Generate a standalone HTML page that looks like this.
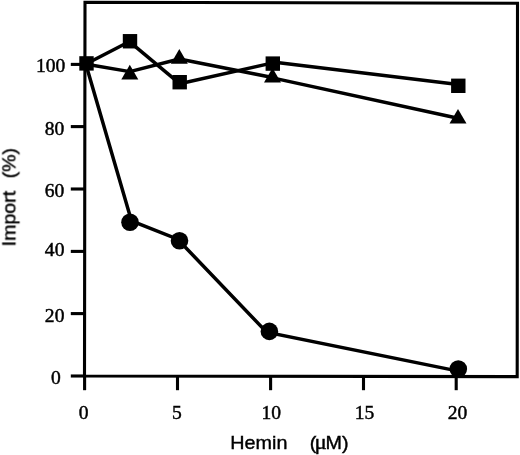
<!DOCTYPE html>
<html><head><meta charset="utf-8"><title>Hemin import</title>
<style>html,body{margin:0;padding:0;background:#fff}svg{display:block}</style></head>
<body>
<svg width="520" height="455" viewBox="0 0 520 455">
<rect x="0" y="0" width="520" height="455" fill="#fff"/>
<defs><filter id="soft" x="0" y="0" width="520" height="455" filterUnits="userSpaceOnUse"><feGaussianBlur stdDeviation="0.4"/></filter></defs>
<g filter="url(#soft)">
<g stroke="#000" fill="none" stroke-linecap="butt" stroke-linejoin="miter">
<polygon points="85.0,2.3 517.5,3.2 517.2,376.6 84.5,376.0" stroke-width="3.1"/>
<line x1="70.8" y1="64.4" x2="85" y2="64.4" stroke-width="3.1"/>
<line x1="70.8" y1="126.6" x2="85" y2="126.6" stroke-width="3.1"/>
<line x1="70.8" y1="189.0" x2="85" y2="189.0" stroke-width="3.1"/>
<line x1="70.8" y1="251.4" x2="85" y2="251.4" stroke-width="3.1"/>
<line x1="70.8" y1="313.6" x2="85" y2="313.6" stroke-width="3.1"/>
<line x1="70.8" y1="376.0" x2="85" y2="376.0" stroke-width="3.1"/>
<line x1="84.6" y1="376" x2="84.6" y2="390.2" stroke-width="3.1"/>
<line x1="177.5" y1="376" x2="177.5" y2="390.2" stroke-width="3.1"/>
<line x1="270.6" y1="376" x2="270.6" y2="390.2" stroke-width="3.1"/>
<line x1="363.5" y1="376" x2="363.5" y2="390.2" stroke-width="3.1"/>
<line x1="456.2" y1="376" x2="456.2" y2="390.2" stroke-width="3.1"/>
<polyline points="85.8,64.0 131.5,220.9 177.7,239.2 266.6,332.2 458.3,371.1" stroke-width="3.5"/>
<line x1="86.5" y1="64.2" x2="129.8" y2="71.6" stroke-width="3.5"/>
<line x1="129.8" y1="71.6" x2="179.3" y2="59.0" stroke-width="3.5"/>
<line x1="179.3" y1="59.0" x2="272.5" y2="77.5" stroke-width="3.5"/>
<line x1="272.5" y1="77.9" x2="458.0" y2="118.3" stroke-width="3.5"/>
<line x1="86.5" y1="63.8" x2="130" y2="41.25" stroke-width="3.5"/>
<line x1="130" y1="42.2" x2="179.7" y2="83.6" stroke-width="3.5"/>
<line x1="179.7" y1="83.7" x2="272.8" y2="62.9" stroke-width="3.5"/>
<line x1="272.8" y1="62.0" x2="458.3" y2="84.4" stroke-width="3.5"/>
</g>
<g fill="#000">
<circle cx="130" cy="222.25" r="8.8"/>
<circle cx="179.5" cy="240.75" r="8.8"/>
<circle cx="269.4" cy="331.4" r="8.8"/>
<circle cx="458.3" cy="369.0" r="8.8"/>
<polygon points="129.8,64.8 138.3,79.39999999999999 121.30000000000001,79.39999999999999"/>
<polygon points="179.3,49.1 187.8,63.699999999999996 170.8,63.699999999999996"/>
<polygon points="272.5,67.9 281.0,82.5 264.0,82.5"/>
<polygon points="458.0,108.95 466.5,123.55 449.5,123.55"/>
<rect x="79.3" y="56.199999999999996" width="14.4" height="14.4"/>
<rect x="122.8" y="34.05" width="14.4" height="14.4"/>
<rect x="172.5" y="75.0" width="14.4" height="14.4"/>
<rect x="265.6" y="56.4" width="14.4" height="14.4"/>
<rect x="451.1" y="78.6" width="14.4" height="14.4"/>
</g>
<g font-family="'Liberation Serif', serif" font-size="19" fill="#000" stroke="#000" stroke-width="0.45">
<text transform="translate(65.4,72.0) scale(1.03,1)" text-anchor="end">100</text>
<text transform="translate(64.3,134.9) scale(1.03,1)" text-anchor="end">80</text>
<text transform="translate(64.2,196.5) scale(1.03,1)" text-anchor="end">60</text>
<text transform="translate(64.4,255.9) scale(1.03,1)" text-anchor="end">40</text>
<text transform="translate(64.4,321.5) scale(1.03,1)" text-anchor="end">20</text>
<text transform="translate(60.7,384.0) scale(1.03,1)" text-anchor="end">0</text>
<text transform="translate(83.6,418.7) scale(1.03,1)" text-anchor="middle">0</text>
<text transform="translate(176.9,418.7) scale(1.03,1)" text-anchor="middle">5</text>
<text transform="translate(271.25,418.7) scale(1.03,1)" text-anchor="middle">10</text>
<text transform="translate(364.6,418.7) scale(1.03,1)" text-anchor="middle">15</text>
<text transform="translate(457.5,418.7) scale(1.03,1)" text-anchor="middle">20</text>
</g>
<g font-family="'Liberation Sans', sans-serif" font-size="19" fill="#000" stroke="#000" stroke-width="0.4">
<text transform="translate(230.3,448.8) scale(1.04,1)">Hemin <tspan dx="16.17">(</tspan><tspan font-family="'Liberation Serif', serif" font-size="22" dx="-1.6">μ</tspan><tspan dx="-1.2">M)</tspan></text>
<text transform="translate(15.4,246.3) rotate(-90) scale(1.03,1)">Import <tspan dx="6.92">(%)</tspan></text>
</g>
</g>
</svg>
</body></html>
